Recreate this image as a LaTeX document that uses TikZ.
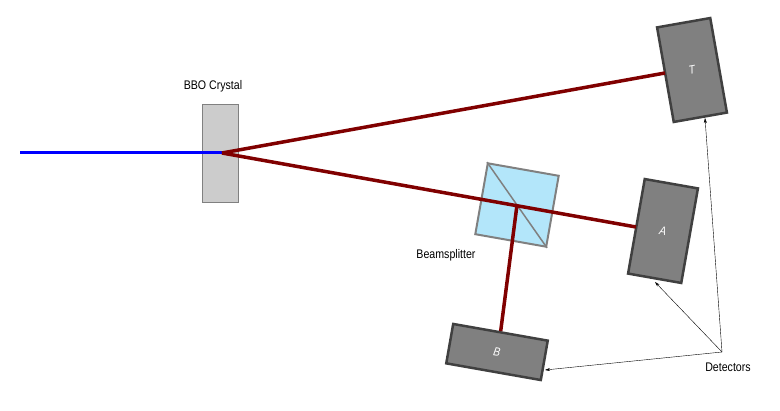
\documentclass[tikz,border=0pt]{standalone}
\usepackage{fontspec}
\setmainfont{Liberation Sans}[FakeStretch=0.85]
\usetikzlibrary{arrows.meta}
\begin{document}
\begin{tikzpicture}[x=1pt,y=-1pt,
  det/.style={draw=black!75,line width=2.5pt,fill=black!50,minimum width=#1,inner sep=0pt,font=\itshape\fontsize{12}{14}\selectfont,text=white},
  beam/.style={line width=3.5pt,draw=red!50!black},
  lbl/.style={font=\fontsize{12.5}{15}\selectfont},
  ar/.style={-{Stealth[length=5pt,width=3pt]},thin}]
\useasboundingbox (0,0) rectangle (780,411);
\coordinate (src) at (20,153);
\node[draw=black!50,fill=black!20,minimum width=36pt,minimum height=98pt,inner sep=0pt] (bbo) at (220,153) {};
\node[lbl] (bbol) at (213,86) {BBO Crystal};
\coordinate (o) at (222,153);
\draw[line width=3pt,blue] (src) -- (o);
\node[det=54pt,minimum height=96pt,rotate=10] (T) at (692,70) {T};
\node[det=54pt,minimum height=96pt,rotate=-10] (A) at (663,231) {A};
\node[det=96pt,minimum height=40pt,rotate=-10] (B) at (497,352) {B};
\coordinate (tin) at (665,73);
\coordinate (ain) at (636,227);
\coordinate (bs) at (517,205);
\draw[beam] (o) -- (tin);
\node[draw=black!50,line width=2pt,fill=cyan!30,minimum size=72pt,inner sep=0pt,rotate=-10] (bsq) at (bs) {};
\draw[black!50,line width=1.5pt] (bsq.north west) -- (bsq.south east);
\draw[beam] (o) -- (ain);
\draw[beam] (bs) -- (B.north);
\node[lbl] (bsl) at (446,255) {Beamsplitter};
\node[lbl] (detl) at (728,367) {Detectors};
\coordinate (dp) at (722,352);
\draw[ar] (dp) -- (705,118);
\draw[ar] (dp) -- (655,282);
\draw[ar] (dp) -- (545,370);
\end{tikzpicture}
\end{document}
